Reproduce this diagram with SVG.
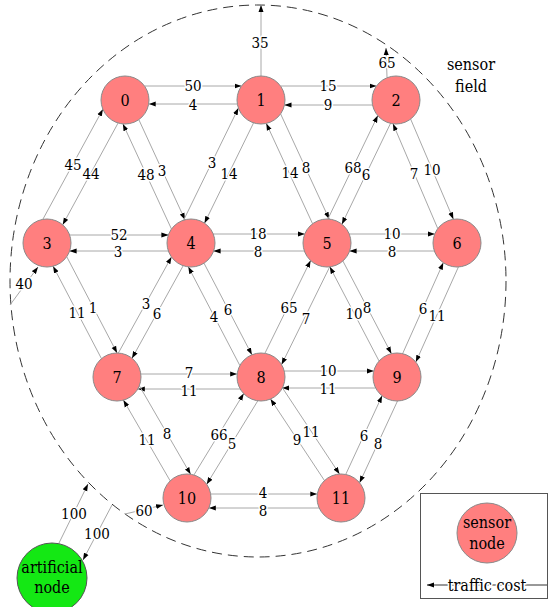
<svg xmlns="http://www.w3.org/2000/svg" width="548" height="607" viewBox="0 0 548 607">
<defs>
<marker id="ah" markerUnits="userSpaceOnUse" markerWidth="7" markerHeight="6" refX="7" refY="3" orient="auto"><path d="M0,0.5 L7,3 L0,5.5 z" fill="#000"/></marker>
<style>
.e{stroke:#a8a8a8;stroke-width:1;fill:none;marker-end:url(#ah)}
.n{fill:#ff7f7f;stroke:#8a8a8a;stroke-width:1}
text{font-family:"DejaVu Serif Condensed","DejaVu Serif",serif;font-stretch:condensed;font-size:16px;fill:#000;text-anchor:middle}
.l{font-size:15px;stroke:#fff;stroke-width:3;paint-order:stroke;stroke-linejoin:round}
</style>
</defs>
<rect width="548" height="607" fill="#fff"/>
<ellipse id="sensor-field" cx="258" cy="281" rx="248" ry="276" fill="none" stroke="#333" stroke-width="1" stroke-dasharray="10,6"/>
<g id="connectors">
<line class="e" x1="144.5" y1="86" x2="241.5" y2="86"/>
<line class="e" x1="237.3" y1="104" x2="148.7" y2="104"/>
<line class="e" x1="280.5" y1="86" x2="376.5" y2="86"/>
<line class="e" x1="372.5" y1="105" x2="284.5" y2="105"/>
<line class="e" x1="69.6" y1="235" x2="168.4" y2="235"/>
<line class="e" x1="168.4" y1="251" x2="69.6" y2="251"/>
<line class="e" x1="213.2" y1="234" x2="304.8" y2="234"/>
<line class="e" x1="304.4" y1="251" x2="213.6" y2="251"/>
<line class="e" x1="349.2" y1="234" x2="434.8" y2="234"/>
<line class="e" x1="434.4" y1="251" x2="349.6" y2="251"/>
<line class="e" x1="140.8" y1="374" x2="237.2" y2="374"/>
<line class="e" x1="240.2" y1="389" x2="137.8" y2="389"/>
<line class="e" x1="284.2" y1="371" x2="373.8" y2="371"/>
<line class="e" x1="375.7" y1="388" x2="282.3" y2="388"/>
<line class="e" x1="210.7" y1="494" x2="317.3" y2="494"/>
<line class="e" x1="319.2" y1="508" x2="208.8" y2="508"/>
<line class="e" x1="42.8" y1="219.4" x2="102.9" y2="109.2"/>
<line class="e" x1="118.1" y1="123" x2="62.7" y2="224.8"/>
<line class="e" x1="171.5" y1="229.1" x2="122.9" y2="123.9"/>
<line class="e" x1="138.8" y1="119.6" x2="185" y2="219.8"/>
<line class="e" x1="183.6" y1="220.2" x2="238.4" y2="108.1"/>
<line class="e" x1="253.6" y1="122.8" x2="204.5" y2="223.2"/>
<line class="e" x1="312.6" y1="223.8" x2="266.3" y2="123.4"/>
<line class="e" x1="280.6" y1="113.9" x2="329.2" y2="219.1"/>
<line class="e" x1="327.9" y1="219" x2="377.8" y2="115.6"/>
<line class="e" x1="390.5" y1="123.4" x2="341.9" y2="224.2"/>
<line class="e" x1="437.8" y1="228.7" x2="393" y2="123.8"/>
<line class="e" x1="410.6" y1="119" x2="453.4" y2="219.3"/>
<line class="e" x1="101.5" y1="358.7" x2="53.1" y2="266.2"/>
<line class="e" x1="66.7" y1="256.6" x2="117.1" y2="353"/>
<line class="e" x1="118.3" y1="353.1" x2="171.5" y2="256.9"/>
<line class="e" x1="183.2" y1="265.7" x2="132" y2="358.3"/>
<line class="e" x1="239.9" y1="365.6" x2="188.3" y2="266.8"/>
<line class="e" x1="204" y1="263.2" x2="251.9" y2="354.8"/>
<line class="e" x1="264.9" y1="353.3" x2="310.6" y2="260.5"/>
<line class="e" x1="329.7" y1="266.9" x2="281.6" y2="364.6"/>
<line class="e" x1="379.1" y1="361.1" x2="329.8" y2="266.8"/>
<line class="e" x1="342.9" y1="261" x2="391.4" y2="353.7"/>
<line class="e" x1="402.6" y1="353.7" x2="443.3" y2="262.7"/>
<line class="e" x1="458.4" y1="267" x2="415.8" y2="362.1"/>
<line class="e" x1="170.2" y1="480.9" x2="123.4" y2="400.1"/>
<line class="e" x1="139.3" y1="385.7" x2="190.6" y2="474.3"/>
<line class="e" x1="193.9" y1="475" x2="243.7" y2="393.6"/>
<line class="e" x1="257.8" y1="400.8" x2="206.7" y2="484.3"/>
<line class="e" x1="324.5" y1="480.6" x2="270.5" y2="399"/>
<line class="e" x1="282.4" y1="387.8" x2="339.5" y2="474.1"/>
<line class="e" x1="345.7" y1="474.5" x2="382.1" y2="395.8"/>
<line class="e" x1="397.5" y1="401" x2="359.6" y2="482.8"/>
<line class="e" x1="261" y1="76" x2="261" y2="5"/>
<line class="e" x1="387" y1="77" x2="386" y2="48"/>
<line class="e" x1="10" y1="305" x2="38" y2="267"/>
<line class="e" x1="125" y1="514" x2="163" y2="505"/>
<line class="e" x1="59" y1="543" x2="88" y2="484"/>
<line class="e" x1="112" y1="505" x2="83" y2="560"/>
<g class="lbl">
<text class="l" x="193" y="91">50</text>
<text class="l" x="193" y="110">4</text>
<text class="l" x="328" y="91">15</text>
<text class="l" x="328" y="110">9</text>
<text class="l" x="119" y="240">52</text>
<text class="l" x="118" y="257">3</text>
<text class="l" x="258" y="239">18</text>
<text class="l" x="258" y="257">8</text>
<text class="l" x="392" y="239">10</text>
<text class="l" x="392" y="257">8</text>
<text class="l" x="189" y="378">7</text>
<text class="l" x="189" y="396">11</text>
<text class="l" x="328" y="376">10</text>
<text class="l" x="328" y="394">11</text>
<text class="l" x="263" y="498">4</text>
<text class="l" x="263" y="516">8</text>
<text class="l" x="73" y="170">45</text>
<text class="l" x="91" y="179">44</text>
<text class="l" x="146" y="180">48</text>
<text class="l" x="162" y="176">3</text>
<text class="l" x="212" y="168">3</text>
<text class="l" x="229" y="179">14</text>
<text class="l" x="290" y="178">14</text>
<text class="l" x="306" y="173">8</text>
<text class="l" x="353" y="173">68</text>
<text class="l" x="366" y="180">6</text>
<text class="l" x="414" y="179">7</text>
<text class="l" x="432" y="175">10</text>
<text class="l" x="77" y="318">11</text>
<text class="l" x="93" y="313">1</text>
<text class="l" x="146" y="309">3</text>
<text class="l" x="157" y="319">6</text>
<text class="l" x="214" y="322">4</text>
<text class="l" x="228" y="315">6</text>
<text class="l" x="289" y="313">65</text>
<text class="l" x="306" y="324">7</text>
<text class="l" x="354" y="319">10</text>
<text class="l" x="367" y="313">8</text>
<text class="l" x="423" y="314">6</text>
<text class="l" x="437" y="321">11</text>
<text class="l" x="147" y="445">11</text>
<text class="l" x="167" y="439">8</text>
<text class="l" x="219" y="440">66</text>
<text class="l" x="232" y="449">5</text>
<text class="l" x="297" y="445">9</text>
<text class="l" x="311" y="437">11</text>
<text class="l" x="364" y="441">6</text>
<text class="l" x="378" y="449">8</text>
<text class="l" x="260" y="48">35</text>
<text class="l" x="387" y="68">65</text>
<text class="l" x="24" y="289">40</text>
<text class="l" x="144" y="516">60</text>
<text class="l" x="74" y="519">100</text>
<text class="l" x="97" y="539">100</text>
</g>
</g>
<g id="node-0"><circle class="n" cx="125" cy="100" r="24"/><text x="125" y="106">0</text></g>
<g id="node-1"><circle class="n" cx="261" cy="100" r="24"/><text x="261" y="106">1</text></g>
<g id="node-2"><circle class="n" cx="396" cy="100" r="24"/><text x="396" y="106">2</text></g>
<g id="node-3"><circle class="n" cx="47" cy="243" r="24"/><text x="47" y="249">3</text></g>
<g id="node-4"><circle class="n" cx="191" cy="243" r="24"/><text x="191" y="249">4</text></g>
<g id="node-5"><circle class="n" cx="327" cy="243" r="24"/><text x="327" y="249">5</text></g>
<g id="node-6"><circle class="n" cx="457" cy="243" r="24"/><text x="457" y="249">6</text></g>
<g id="node-7"><circle class="n" cx="117" cy="377" r="24"/><text x="117" y="383">7</text></g>
<g id="node-8"><circle class="n" cx="261" cy="377" r="24"/><text x="261" y="383">8</text></g>
<g id="node-9"><circle class="n" cx="397" cy="377" r="24"/><text x="397" y="383">9</text></g>
<g id="node-10"><circle class="n" cx="187" cy="498" r="24"/><text x="187" y="504">10</text></g>
<g id="node-11"><circle class="n" cx="341" cy="498" r="24"/><text x="341" y="504">11</text></g>
<g id="artificial-node"><circle cx="52" cy="578" r="35" fill="#14e814" stroke="#555" stroke-width="1"/><text x="52" y="573">artificial</text><text x="52" y="593">node</text></g>
<g id="field-label"><text x="471" y="70">sensor</text><text x="471" y="92">field</text></g>
<g id="legend">
<rect x="420.5" y="493.5" width="127" height="105" fill="none" stroke="#555" stroke-width="1"/>
<circle class="n" cx="487" cy="533" r="30"/>
<text x="487" y="528">sensor</text>
<text x="487" y="549">node</text>
<line class="e" x1="547" y1="585" x2="427" y2="585" style="stroke:#333"/>
<text class="l" x="487" y="591" style="font-size:16px">traffic cost</text>
</g>
</svg>
